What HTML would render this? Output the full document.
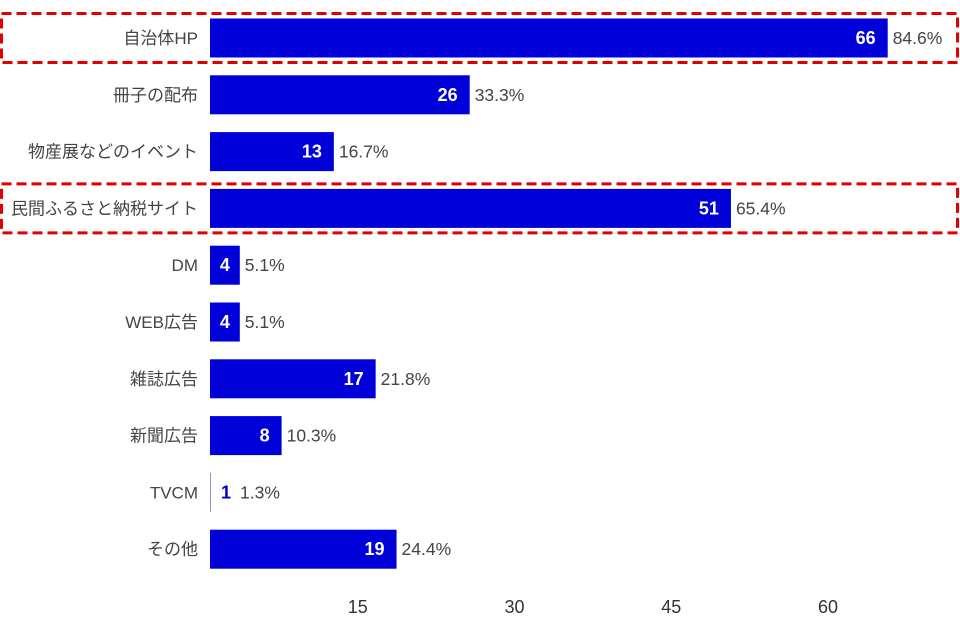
<!DOCTYPE html>
<html><head><meta charset="utf-8"><style>
body{margin:0;background:#fff;font-family:"Liberation Sans","Noto Sans CJK JP",sans-serif}
svg text{font-family:"Liberation Sans","Noto Sans CJK JP",sans-serif}
</style></head><body>
<svg id="chart" width="960" height="620">
<g id="boxes"></g><g id="bars"></g><g id="axis"></g>
</svg>
<script>
const categories=["自治体HP","冊子の配布","物産展などのイベント","民間ふるさと納税サイト","DM","WEB広告","雑誌広告","新聞広告","TVCM","その他"];
const counts=[66,26,13,51,4,4,17,8,1,19];
const percents=["84.6%","33.3%","16.7%","65.4%","5.1%","5.1%","21.8%","10.3%","1.3%","24.4%"];
const highlighted=[0,3];
const ticks=[15,30,45,60];
const NS="http://www.w3.org/2000/svg";
const x0=198,scale=10.45,clipX=210,top0=18.5,pitch=56.8,bh=39;
const xs=v=>x0+v*scale;
const ys=i=>top0+i*pitch;
function mk(t,a,p){const e=document.createElementNS(NS,t);for(const k in a)e.setAttribute(k,a[k]);p.appendChild(e);return e;}
const bars=document.getElementById('bars'),boxes=document.getElementById('boxes'),axis=document.getElementById('axis');
highlighted.forEach(i=>{
 const r=mk('rect',{x:1.5,y:ys(i)-5,width:956,height:bh+10,fill:'none',stroke:'#e00000','stroke-width':3,'stroke-dasharray':'10,5'},boxes);
 
 
});
categories.forEach((c,i)=>{
 const y=ys(i),cy=y+bh/2+6;
 const lab=mk('text',{x:198,y:cy,'text-anchor':'end','font-size':17,fill:'#444'},bars);lab.textContent=c;
 
 
 const xe=xs(counts[i]);
 const w=Math.max(1,xe-clipX);
 const b=mk('rect',{x:clipX,y:y,width:w,height:bh,fill:w>2?'#0000d8':'#9090d0'},bars);
 
 
 const end=clipX+w;
 const inside=w>40;
 const v=mk('text',{x:inside?end-12:(w>2?clipX+w/2:end+10),y:cy,'text-anchor':inside?'end':(w>2?'middle':'start'),'font-size':18,'font-weight':'600',fill:w>2?'#fff':'#0000c0'},bars);
 v.textContent=counts[i];
 
 
 const p=mk('text',{x:w>2?end+5:end+29,y:cy,'font-size':17.5,fill:'#444'},bars);p.textContent=percents[i];
 
 
});
ticks.forEach(t=>{
 const e=mk('text',{x:xs(t)+3,y:613,'text-anchor':'middle','font-size':18,fill:'#333'},axis);e.textContent=t;
 
 
});
</script>
</body></html>
